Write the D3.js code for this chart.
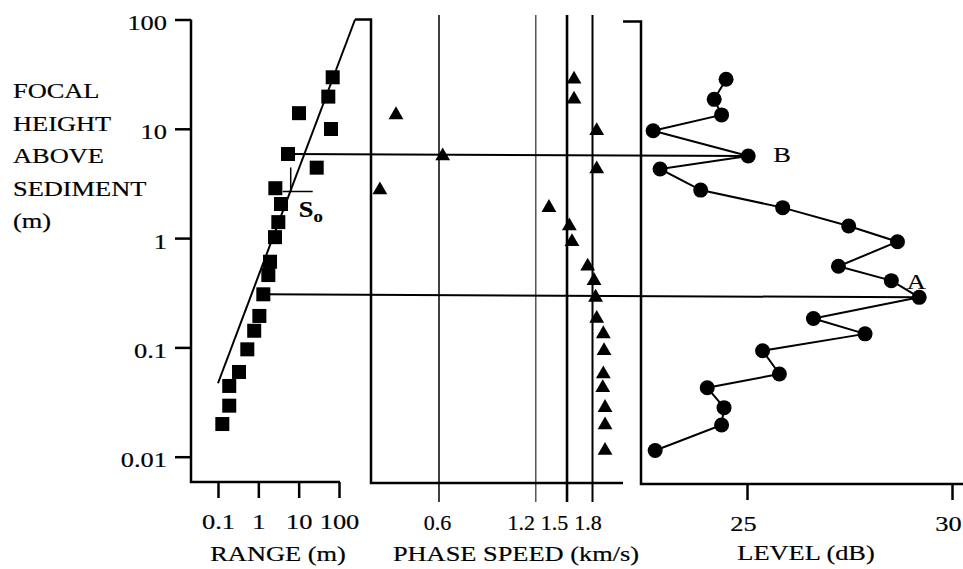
<!DOCTYPE html>
<html>
<head>
<meta charset="utf-8">
<script src="https://cdn.jsdelivr.net/npm/d3@7"></script>
<style>
  body { margin: 0; background: #fff; }
  svg text { font-family: "Liberation Serif", "Times New Roman", serif; fill: #000; stroke: #000; stroke-width: 0.2px; }
</style>
</head>
<body>
<div id="chart"></div>
<script>
// focal heights of the phase speed / level profiles (m)
var focalHeight = [28.4, 18.6, 13.4, 9.6, 5.64, 4.29, 2.75, 1.9, 1.29, 0.927, 0.552, 0.408, 0.287, 0.184, 0.133, 0.0933, 0.0571, 0.0428, 0.0281, 0.0195, 0.0114];
var phaseSpeed = [1.577, 1.577, 0.441, 1.855, 0.616, 1.855, 0.393, 1.318, 1.525, 1.554, 1.739, 1.82, 1.84, 1.855, 1.945, 1.955, 1.945, 1.937, 1.969, 1.969, 1.969];
var level = [24.49, 24.2, 24.38, 22.71, 25.03, 22.88, 23.87, 25.87, 27.48, 28.67, 27.23, 28.52, 29.2, 26.62, 27.88, 25.38, 25.79, 24.03, 24.44, 24.38, 22.76];

// range vs focal height (squares)
var squareHeight = [29.6, 19.7, 13.9, 9.96, 5.88, 4.41, 2.86, 2.05, 1.40, 1.02, 0.608, 0.459, 0.306, 0.194, 0.142, 0.096, 0.0596, 0.0444, 0.0293, 0.0199];
var squareRange = [69.8, 54.3, 10.2, 63.4, 5.44, 28, 2.64, 3.65, 3.13, 2.59, 1.95, 1.77, 1.33, 1.06, 0.79, 0.533, 0.332, 0.19, 0.19, 0.128];

// fitted line and S0 point
var fitRange = [0.1, 250], fitHeight = [0.047, 100];
var soRange = 6.35, soHeight = 2.67;

// peaks A and B : index into the square / circle arrays
var peakIndex = [4, 12], peakName = ["B", "A"];

var heightTicks = [100, 10, 1, 0.1, 0.01];
var rangeTicks = [0.1, 1, 10, 100];
var speedTicks = [0.6, 1.2, 1.5, 1.8];
var speedWidth = [1.5, 1, 2.6, 2];
var speedLabelShift = [-2, -15, -13, -5];
var levelTicks = [25, 30];
var levelLabelShift = [-4, -4];
var titleLines = ["FOCAL", "HEIGHT", "ABOVE", "SEDIMENT", "(m)"];

var W = 963, H = 569, SX = 1.2;

var svg = d3.select("#chart").append("svg")
    .attr("width", W)
    .attr("height", H);

var y = d3.scaleLog().domain([0.01, 100]).range([456.7, 19.5]);
var xRange = d3.scaleLog().domain([0.1, 100]).range([218, 339]);
var xSpeed = d3.scaleLog().domain([0.6, 1.8]).range([439, 592.5]);
var xLevel = d3.scaleLinear().domain([25, 30]).range([747, 952]);

// panel frames
var leftX = 191, leftBottom = 482, leftEnd = 340;
var midX = 371, midBottom = 483, midEnd = 623;
var rightX = 641, rightBottom = 484;

// stretch text horizontally (the scanned font is wide)
function stretch(sel, sx, shift) {
  sel.each(function(d, i) {
    var t = d3.select(this);
    var tx = (+t.attr("x") || 0) + (shift ? shift[i] : 0), ty = +t.attr("y") || 0;
    t.attr("x", 0).attr("y", 0)
      .attr("transform", "translate(" + tx + "," + ty + ") scale(" + (sx || SX) + ",1)");
  });
}

function label(str, x, yy, anchor, size) {
  return svg.append("text")
    .attr("transform", "translate(" + x + "," + yy + ") scale(" + SX + ",1)")
    .attr("text-anchor", anchor || "start")
    .style("font-size", (size || 22) + "px")
    .text(str);
}

// horizontal lines through peaks B and A
peakIndex.forEach(function(i) {
  svg.append("line")
    .attr("x1", xRange(squareRange[i])).attr("y1", y(squareHeight[i]))
    .attr("x2", xLevel(level[i])).attr("y2", y(focalHeight[i]))
    .attr("stroke", "#000").attr("stroke-width", 2);
});

// vertical reference lines in the phase speed panel
speedTicks.forEach(function(v, i) {
  svg.append("line")
    .attr("x1", xSpeed(v)).attr("x2", xSpeed(v))
    .attr("y1", 15).attr("y2", 502)
    .attr("stroke", "#000").attr("stroke-width", speedWidth[i]);
});

// left axis
var gy = svg.append("g")
  .attr("transform", "translate(" + leftX + ",0)")
  .call(d3.axisLeft(y).tickValues(heightTicks).tickSize(16).tickPadding(8)
    .tickFormat(d3.format("~g")));
gy.select(".domain").remove();
gy.selectAll(".tick line").attr("stroke-width", 2.5);
gy.selectAll("text").style("font-size", "22px").attr("dy", "0.45em").call(stretch);

// bottom axes
function bottomAxis(scale, ticks, yy, fmt, sx, shift) {
  var g = svg.append("g")
    .attr("transform", "translate(0," + yy + ")")
    .call(d3.axisBottom(scale).tickValues(ticks).tickSize(16).tickPadding(15).tickFormat(fmt));
  g.select(".domain").remove();
  g.selectAll(".tick line").attr("stroke-width", 2.5);
  g.selectAll("text").style("font-size", "22px").call(stretch, sx, shift);
  return g;
}
bottomAxis(xRange, rangeTicks, leftBottom, d3.format("~g"));
var gs = bottomAxis(xSpeed, speedTicks, midBottom, d3.format(".1f"), 1, speedLabelShift);
gs.selectAll(".tick line").remove();
bottomAxis(xLevel, levelTicks, rightBottom, d3.format("d"), SX, levelLabelShift);

// frames
var frame = d3.path();
frame.moveTo(leftX, y(100));
frame.lineTo(leftX, leftBottom);
frame.lineTo(leftEnd, leftBottom);
frame.moveTo(xRange(fitRange[1]), y(100));
frame.lineTo(midX, y(100));
frame.lineTo(midX, midBottom);
frame.lineTo(midEnd, midBottom);
frame.moveTo(midEnd, y(100) + 2);
frame.lineTo(rightX, y(100) + 2);
frame.lineTo(rightX, rightBottom);
frame.lineTo(W, rightBottom);
svg.append("path")
  .attr("d", frame.toString())
  .attr("fill", "none").attr("stroke", "#000").attr("stroke-width", 2.5);

// fitted line
svg.append("path")
  .datum(d3.range(fitRange.length))
  .attr("fill", "none").attr("stroke", "#000").attr("stroke-width", 2)
  .attr("d", d3.line()
    .x(function(i) { return xRange(fitRange[i]); })
    .y(function(i) { return y(fitHeight[i]); }));

// S0 marker
var sx = xRange(soRange), sy = y(soHeight);
svg.append("path")
  .attr("d", "M" + sx + "," + (sy - 24) + "V" + sy + "M" + (sx - 8) + "," + sy + "H" + (sx + 22))
  .attr("fill", "none").attr("stroke", "#000").attr("stroke-width", 1.5);
var so = svg.append("text")
  .attr("transform", "translate(" + (sx + 8) + "," + (sy + 26) + ") scale(1.1,1)")
  .style("font-size", "24px").style("font-weight", "bold");
so.append("tspan").text("S");
so.append("tspan").attr("dy", 5).style("font-size", "17px").text("o");

// squares
var sq = 14;
svg.selectAll(".sq")
  .data(d3.range(squareRange.length))
  .enter().append("rect")
  .attr("class", "sq")
  .attr("x", function(i) { return xRange(squareRange[i]) - sq / 2; })
  .attr("y", function(i) { return y(squareHeight[i]) - sq / 2; })
  .attr("width", sq).attr("height", sq)
  .attr("fill", "#000");

// triangles
var tri = d3.symbol().type(d3.symbolTriangle).size(95);
svg.selectAll(".tri")
  .data(d3.range(phaseSpeed.length))
  .enter().append("path")
  .attr("class", "tri")
  .attr("d", tri)
  .attr("transform", function(i) {
    return "translate(" + xSpeed(phaseSpeed[i]) + "," + y(focalHeight[i]) + ")";
  })
  .attr("fill", "#000");

// level profile
svg.append("path")
  .datum(d3.range(level.length))
  .attr("fill", "none").attr("stroke", "#000").attr("stroke-width", 2)
  .attr("d", d3.line()
    .x(function(i) { return xLevel(level[i]); })
    .y(function(i) { return y(focalHeight[i]); }));
svg.selectAll(".dot")
  .data(d3.range(level.length))
  .enter().append("circle")
  .attr("class", "dot")
  .attr("cx", function(i) { return xLevel(level[i]); })
  .attr("cy", function(i) { return y(focalHeight[i]); })
  .attr("r", 7.5)
  .attr("fill", "#000");

// peak letters
label(peakName[0], xLevel(level[peakIndex[0]]) + 25, y(focalHeight[peakIndex[0]]) + 6, "start");
label(peakName[1], xLevel(level[peakIndex[1]]) - 3, y(focalHeight[peakIndex[1]]) - 8, "middle");

// titles
titleLines.forEach(function(s, i) {
  label(s, 13, 98 + i * 32.5, "start");
});
label("RANGE (m)", 278, 561, "middle");
label("PHASE SPEED (km/s)", 516, 561, "middle");
label("LEVEL (dB)", 806, 560, "middle");
</script>
</body>
</html>
